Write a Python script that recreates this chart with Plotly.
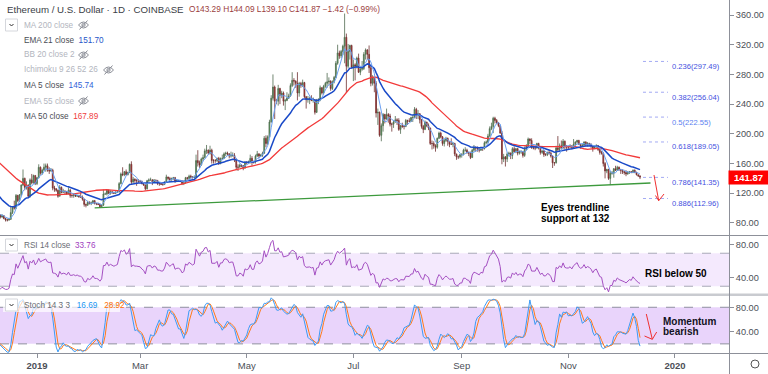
import numpy as np
import pandas as pd
import plotly.graph_objects as go

# ---------------- DATA: daily (close, high, low); open = previous close ----------------
OCT18 = [(195,198,193),(210,226,194),(210,214,207),(206,211,204),(203,208,200),(202,205,200),(204,206,201),
         (205,208,203),(204,207,202),(203,205,201),(204,208,202),(202,205,201),(202,204,200),(203,205,201),
         (203,205,201),(196,204,193),(197,198,194),(197,200,195)]
NOV18 = [(199,201,196),(201,203,198),(199,202,197),(212,214,198),(210,214,207),(219,220,208),(217,222,215),
         (211,218,209),(208,212,206),(212,213,207),(212,214,208),(210,213,208),(206,211,204),(181,207,176),
         (180,183,167),(175,182,173),(174,176,171),(176,180,174),(149,177,146),(130,151,120),(136,141,126),
         (126,138,125),(123,127,117),(113,127,112),(116,119,101),(108,119,104),(110,113,101),(122,128,109),
         (118,123,116),(113,119,109)]
DEC18 = [(117,119,112),(114,120,113),(108,115,106),(110,112,105),(103,110,102),(91,104,90),(91,95,83),
         (92,95,88),(94,97,91),(91,95,89),(88,91,86),(90,92,87),(86,90,85),(84,87,82),(84,86,82),(85,87,83),
         (94,102,84),(101,102,92),(100,110,98),(117,119,99),(110,118,108),(118,119,108),(131,132,116),
         (140,152,130),(128,141,124),(131,136,125),(116,132,114),(138,140,114),(134,146,132),(144,145,133),
         (133,144,131)]
JAN19 = [(141,142,131),(155,159,140),(147,156,145),(151,153,145),(155,160,151),(157,160,149),(151,160,149),
         (150,155,146),(151,154,149),(127,153,124),(126,130,122),(124,127,122),(116,125,114),(128,131,116),
         (121,129,120),(123,126,121),(122,124,118),(119,123,118),(124,128,119),(117,126,114),(117,118,114),
         (118,120,114),(116,119,115),(117,118,115),(115,118,114),(115,121,114),(112,117,110),(105,112,102),
         (104,106,101),(108,110,103),(106,109,105)]
FEB19 = [(107,109,104),(110,111,106),(106,111,105),(106,107,104),(105,107,104),(102,106,101),(104,105,101),
         (119,125,103),(119,121,118),(124,125,117),(120,125,119),(122,124,118),(121,123,119),(120,122,119),
         (121,123,119),(122,124,121),(133,135,121),(146,148,132),(145,155,143),(149,150,143),(145,152,144),
         (148,149,144),(159,160,147),(135,163,132),(139,142,134),(137,140,134),(137,139,130),(136,139,134)]
MAR19 = [(136,138,135),(133,137,132),(131,134,130),(126,132,124),(137,138,125),(138,140,135),(138,141,137),
         (135,139,131),(138,139,134),(137,138,135),(133,138,131),(133,134,130),(132,134,131),(132,134,130),
         (135,136,131),(142,145,134),(140,142,138),(138,142,136),(140,141,137),(141,142,138),(136,142,134),
         (137,138,135),(137,138,136),(136,138,135),(133,137,131),(134,135,131),(141,142,133),(140,142,138),
         (143,145,138),(142,145,140),(141,143,140)]
APR19 = [(142,144,140),(164,172,141),(161,178,156),(158,164,154),(166,168,157),(168,172,163),(177,180,167),
         (178,185,173),(174,179,172),(178,184,172),(164,180,160),(164,166,160),(164,166,161),(167,168,162),
         (160,169,158),(167,168,159),(167,172,165),(173,175,166),(174,176,170),(173,176,171),(170,174,167),
         (171,176,168),(171,175,169),(165,174,162),(155,167,151),(155,159,150),(158,160,155),(157,159,155),
         (154,158,151),(162,163,153)]
MAY19 = [(161,163,159),(162,164,160),(167,172,160),(162,170,157),(162,164,160),(170,172,160),(173,177,169),
         (170,174,167),(171,173,169),(174,176,169),(194,197,173),(187,198,182),(196,198,185),(216,219,195),
         (248,252,215),(263,280,245),(244,265,220),(244,247,240),(261,266,238),(252,262,240),(255,258,248),
         (244,257,238),(245,247,232),(248,256,244),(251,254,247),(265,268,250),(272,283,263),(271,275,265),
         (268,272,262),(255,283,245),(268,270,250)]
JUN19 = [(265,270,262),(269,273,263),(250,270,248),(246,251,234),(247,251,242),(247,250,240),(245,252,244),
         (246,249,242),(229,246,226),(245,247,228),(246,248,240),(262,265,244),(255,263,253),(264,266,253),
         (268,270,262),(270,282,262),(271,276,266),(261,272,258),(270,272,259),(276,278,268),(295,298,275),
         (309,320,293),(305,312,301),(311,313,302),(318,320,306),(330,362,295),(291,335,255),(311,321,288),
         (319,320,300),(290,320,288)]
JUL19 = [(293,300,271),(291,295,272),(302,304,288),(283,308,282),(287,290,279),(288,298,285),(307,310,286),
         (313,315,300),(307,314,300),(289,319,282),(268,292,264),(275,279,265),(268,277,256),(228,271,222),
         (229,234,212),(198,230,196),(211,214,190),(226,228,203),(220,227,214),(226,234,219),(224,228,215),
         (213,227,210),(213,215,203),(216,218,208),(219,224,215),(218,221,212),(206,221,204),(211,212,200),
         (210,215,208),(210,212,206),(218,220,209)]
AUG19 = [(217,219,212),(217,221,216),(222,223,216),(222,225,216),(233,236,222),(225,235,220),(227,232,220),
         (219,228,214),(210,220,207),(206,212,201),(216,218,205),(211,216,209),(208,214,205),(187,208,185),
         (187,191,179),(184,190,180),(182,186,176),(194,195,180),(201,203,193),(196,203,194),(187,197,184),
         (191,193,183),(194,196,189),(190,195,184),(186,190,182),(186,194,185),(187,189,182),(173,188,170),
         (169,173,165),(169,171,166),(172,173,167)]
SEP19 = [(172,174,168),(178,180,171),(178,182,176),(175,180,173),(174,176,170),(168,176,166),(178,180,168),
         (182,185,176),(181,183,176),(180,183,176),(178,181,175),(181,183,177),(180,182,177),(188,190,179),
         (189,191,186),(197,200,187),(207,210,196),(210,215,205),(221,223,201),(218,223,214),(215,220,213),
         (211,216,209),(201,212,200),(166,204,159),(169,173,162),(166,170,156),(173,175,162),(174,176,170),
         (171,175,166),(180,182,166)]
OCT19 = [(176,183,175),(180,181,174),(174,181,171),(176,177,172),(176,178,173),(171,177,168),(180,183,169),
         (184,186,178),(193,195,182),(191,194,186),(181,194,180),(181,184,179),(181,184,178),(187,188,180),
         (181,188,179),(175,182,172),(177,178,173),(172,178,169),(172,174,170),(175,176,170),(174,178,172),
         (170,176,168),(161,171,154),(161,162,157),(181,184,160),(179,197,176),(184,187,176),(181,191,180),
         (190,193,180),(183,191,179),(182,185,176)]
NOV19 = [(182,184,179),(184,186,182),(181,184,179),(186,193,180),(189,190,184),(191,192,187),(186,192,185),
         (184,186,180),(185,186,183),(189,190,183),(185,190,183),(187,189,183),(186,188,185),(184,187,181),
         (180,184,176),(183,184,180),(184,186,181),(179,185,177),(175,180,172),(174,177,172),(160,175,156),
         (150,162,140),(152,153,147),(140,153,138),(147,150,131),(147,150,145),(153,154,141),(151,157,150),
         (155,157,150),(152,156,150)]
DEC19 = [(151,152,146),(149,152,146),(148,150,145),(146,151,143),(148,150,145),(149,150,146),(148,150,147),
         (151,152,147),(148,152,147),(145,149,144),(143.29,145,142),(141.87,144.09,139.10)]

MONTH_STARTS = ["2018-10-14", "2018-11-01", "2018-12-01", "2019-01-01", "2019-02-01", "2019-03-01",
                "2019-04-01", "2019-05-01", "2019-06-01", "2019-07-01", "2019-08-01", "2019-09-01",
                "2019-10-01", "2019-11-01", "2019-12-01"]
MONTHS = [OCT18, NOV18, DEC18, JAN19, FEB19, MAR19, APR19, MAY19, JUN19, JUL19, AUG19, SEP19, OCT19, NOV19, DEC19]

# legend values as shown
TITLE = "Ethereum / U.S. Dollar · 1D · COINBASE"
OHLC_TEXT = "O143.29 H144.09 L139.10 C141.87 −1.42 (−0.99%)"
EMA21_VAL, MA5_VAL, MA50_VAL = "151.70", "145.74", "167.89"
RSI_VAL, K_VAL, D_VAL = "33.76", "16.69", "28.92"
LAST_PRICE = 141.87

FIB_RATIOS = ["0.236", "0.382", "0.5", "0.618", "0.786", "0.886"]
FIB_PRICES = [297.49, 256.04, 222.55, 189.05, 141.35, 112.96]

TREND_DATES = ["2019-02-03", "2019-12-18"]
TREND_PRICES = [100.2, 133.8]

TICK_DATES = ["2019-01-01", "2019-03-01", "2019-05-01", "2019-07-01", "2019-09-01", "2019-11-01", "2020-01-01"]
TICK_TEXT = ["<b>2019</b>", "Mar", "May", "Jul", "Sep", "Nov", "<b>2020</b>"]
PRICE_TICKS = [80, 120, 160, 200, 240, 280, 320, 360]
RSI_TICKS = [40, 80]
STOCH_TICKS = [40, 80]

# ---------------- build frame ----------------
dates, closes, highs, lows = [], [], [], []
for start, month in zip(MONTH_STARTS, MONTHS):
    dates += list(pd.date_range(start, periods=len(month), freq="D"))
    for c, h, l in month:
        closes.append(c); highs.append(h); lows.append(l)
df = pd.DataFrame({"close": closes, "high": highs, "low": lows}, index=pd.DatetimeIndex(dates))
df["open"] = df["close"].shift(1)
df = df.iloc[1:]  # first row only seeds the open

full_close = pd.Series(closes, index=pd.DatetimeIndex(dates))
ma5 = full_close.rolling(5).mean().iloc[1:]
ma50 = full_close.rolling(50).mean().iloc[1:]
ema21 = full_close.ewm(span=21, adjust=False).mean().iloc[1:]
delta = full_close.diff()
gain = delta.clip(lower=0).ewm(alpha=1/14, adjust=False).mean()
loss = (-delta.clip(upper=0)).ewm(alpha=1/14, adjust=False).mean()
rsi = (100 - 100 / (1 + gain / loss)).iloc[1:]
hh = df["high"].rolling(14).max()
ll = df["low"].rolling(14).min()
kraw = 100 * (df["close"] - ll) / (hh - ll)
stoch_k = kraw.rolling(3).mean()
stoch_d = stoch_k.rolling(3).mean()

# ---------------- geometry helpers (pixel -> paper) ----------------
W, H = 768, 374
PW, PH = 729, 353
def px(x): return x / PW
def py(y): return 1 - y / PH

FONT = "Liberation Sans, Arial, sans-serif"

fig = go.Figure()
fig.add_trace(go.Candlestick(
    x=df.index, open=df["open"], high=df["high"], low=df["low"], close=df["close"],
    increasing=dict(line=dict(color="#4f6a4f", width=0.8), fillcolor="#4caf50"),
    decreasing=dict(line=dict(color="#6e3030", width=0.8), fillcolor="#e02424"),
    whiskerwidth=0, yaxis="y", showlegend=False, hoverinfo="skip"))
fig.add_trace(go.Scatter(x=ma50.index, y=ma50, mode="lines", line=dict(color="#f23a3a", width=1.3), yaxis="y", hoverinfo="skip"))
fig.add_trace(go.Scatter(x=ema21.index, y=ema21, mode="lines", line=dict(color="#1a4ac8", width=1.5), yaxis="y", hoverinfo="skip"))
fig.add_trace(go.Scatter(x=ma5.index, y=ma5, mode="lines", line=dict(color="#6aa0f2", width=1), yaxis="y", hoverinfo="skip"))
fig.add_trace(go.Scatter(x=TREND_DATES, y=TREND_PRICES, mode="lines", line=dict(color="#3d9a3d", width=1.3), yaxis="y", hoverinfo="skip"))
fig.add_trace(go.Scatter(x=rsi.index, y=rsi, mode="lines", line=dict(color="#a44fc2", width=1), yaxis="y2", hoverinfo="skip"))
fig.add_trace(go.Scatter(x=stoch_d.index, y=stoch_d, mode="lines", line=dict(color="#ff7a1a", width=1), yaxis="y3", hoverinfo="skip"))
fig.add_trace(go.Scatter(x=stoch_k.index, y=stoch_k, mode="lines", line=dict(color="#3d9bf5", width=1), yaxis="y3", hoverinfo="skip"))

shapes = []
annots = []

# indicator bands
shapes.append(dict(type="rect", xref="paper", yref="y2", x0=0, x1=1, y0=30, y1=70,
                   fillcolor="#f4e9fd", line=dict(width=0), layer="below"))
for v in (30, 70):
    shapes.append(dict(type="line", xref="paper", yref="y2", x0=0, x1=1, y0=v, y1=v,
                       line=dict(color="#a9a9b8", width=1, dash="dash"), layer="below"))
shapes.append(dict(type="rect", xref="paper", yref="y3", x0=0, x1=1, y0=20, y1=80,
                   fillcolor="#e9d4fb", line=dict(width=0), layer="below"))
for v in (20, 80):
    shapes.append(dict(type="line", xref="paper", yref="y3", x0=0, x1=1, y0=v, y1=v,
                       line=dict(color="#8f8f9f", width=1, dash="dash"), layer="below"))

# fib levels
for r, p in zip(FIB_RATIOS, FIB_PRICES):
    shapes.append(dict(type="line", xref="x", yref="y", x0="2019-12-13 17:00", x1="2019-12-28", y0=p, y1=p,
                       line=dict(color="#a3aaf3", width=1, dash="dot")))
    annots.append(dict(xref="x", yref="y", x="2019-12-29", y=p, yshift=-5, xanchor="left", yanchor="middle",
                       text=f"{r}({p:.2f})", showarrow=False,
                       font=dict(family=FONT, size=7.6, color="#5a7ff0" if r == "0.5" else "#3f4fe0")))

# separators and borders
LINE = "#8d9099"
shapes.append(dict(type="line", xref="paper", yref="paper", x0=0, x1=px(W), y0=py(235.5), y1=py(235.5), line=dict(color=LINE, width=1)))
shapes.append(dict(type="line", xref="paper", yref="paper", x0=0, x1=px(W), y0=py(294.8), y1=py(294.8), line=dict(color="#c9cbd0", width=2.5)))
shapes.append(dict(type="line", xref="paper", yref="paper", x0=0, x1=px(W), y0=py(353.5), y1=py(353.5), line=dict(color=LINE, width=1)))
shapes.append(dict(type="line", xref="paper", yref="paper", x0=px(729.5), x1=px(729.5), y0=py(0), y1=py(H), line=dict(color=LINE, width=1)))

# red arrows (price pane and stoch pane)
def arrow(p0, tip, w1, w2):
    for a in (p0, w1, w2):
        shapes.append(dict(type="line", xref="paper", yref="paper", x0=px(a[0]), y0=py(a[1]),
                           x1=px(tip[0]), y1=py(tip[1]), line=dict(color="#f03030", width=1)))
arrow((654, 175), (658.7, 200.7), (655.5, 195.5), (664, 194))
arrow((646.3, 314), (652.3, 339.3), (644.5, 336), (656.7, 332))

# legend widgets: chevron boxes and eye-crossed icons
def chevron(x0, y0):
    shapes.append(dict(type="rect", xref="paper", yref="paper", x0=px(x0), x1=px(x0 + 12), y0=py(y0), y1=py(y0 + 12),
                       line=dict(color="#d5d7dc", width=1), fillcolor="white"))
    shapes.append(dict(type="path", xref="paper", yref="paper",
                       path=f"M {px(x0+4)},{py(y0+5)} L {px(x0+6)},{py(y0+7)} L {px(x0+8)},{py(y0+5)}",
                       line=dict(color="#333", width=1)))
def eye(xc, yc):
    x0, x1 = xc - 5, xc + 5
    shapes.append(dict(type="path", xref="paper", yref="paper",
                       path=f"M {px(x0)},{py(yc)} Q {px(xc)},{py(yc-6)} {px(x1)},{py(yc)} Q {px(xc)},{py(yc+6)} {px(x0)},{py(yc)} Z",
                       line=dict(color="#8a8d96", width=1)))
    shapes.append(dict(type="circle", xref="paper", yref="paper", x0=px(xc-1.6), x1=px(xc+1.6), y0=py(yc-1.6), y1=py(yc+1.6),
                       line=dict(color="#8a8d96", width=1)))
    shapes.append(dict(type="line", xref="paper", yref="paper", x0=px(xc-4), x1=px(xc+4), y0=py(yc+4.5), y1=py(yc-4.5),
                       line=dict(color="#8a8d96", width=1)))

chevron(5.5, 19)
chevron(5.5, 239)
shapes.append(dict(type="rect", xref="paper", yref="paper", x0=px(3), x1=px(120), y0=py(298), y1=py(312),
                   fillcolor="rgba(255,255,255,0.7)", line=dict(width=0), layer="above"))
chevron(5.5, 299)

for xc, yc in [(83.5, 25), (83.5, 55), (108.5, 70), (83.5, 101)]:
    eye(xc, yc)

# gear icon
shapes.append(dict(type="circle", xref="paper", yref="paper", x0=px(751), x1=px(759), y0=py(360), y1=py(368),
                   line=dict(color="#555", width=1)))

def text(x, y, s, size, color="#333", bold=False, anchor="left"):
    if bold:
        s = f"<b>{s}</b>"
    annots.append(dict(xref="paper", yref="paper", x=px(x), y=py(y), text=s, showarrow=False,
                       xanchor=anchor, yanchor="middle", font=dict(family=FONT, size=size, color=color)))

DIM = "#b2b5be"
DARK = "#4a4d55"
text(5, 9, TITLE, 9.7, "#3a3d45")
text(187, 9, OHLC_TEXT, 8.3, "#9a3d3d")
text(22, 25, "MA 200 close", 8.2, DIM)
text(22, 40, f"EMA 21 close  <span style='color:#2655c8'>{EMA21_VAL}</span>", 8.2, DARK)
text(22, 55, "BB 20 close 2", 8.2, DIM)
text(22, 70, "Ichimoku 9 26 52 26", 8.2, DIM)
text(22, 86, f"MA 5 close  <span style='color:#2f62d8'>{MA5_VAL}</span>", 8.2, DARK)
text(22, 101, "EMA 55 close", 8.2, DIM)
text(22, 116, f"MA 50 close  <span style='color:#f03c3c'>{MA50_VAL}</span>", 8.2, DARK)
text(22, 245, f"RSI 14 close  <span style='color:#a040c0'>{RSI_VAL}</span>", 8.2, "#6a6d75")
text(22, 305, f"Stoch 14 3 3   <span style='color:#2196f3'>{K_VAL}</span>   <span style='color:#ff6d00'>{D_VAL}</span>", 8.2, "#6a6d75")

text(539, 207, "Eyes trendline", 10, "#000", True)
text(539, 218, "support at 132", 10, "#000", True)
text(643, 273, "RSI below 50", 10, "#000", True)
text(661, 321, "Momentum", 10, "#111122", True)
text(661, 331, "bearish", 10, "#111122", True)

annots.append(dict(xref="paper", yref="y", x=px(748.5), y=LAST_PRICE, text=f"<b>{LAST_PRICE:.2f}</b>",
                   showarrow=False, xanchor="center", yanchor="middle", bgcolor="#ff0000",
                   width=37, height=11, font=dict(family=FONT, size=9.5, color="white")))

AX = dict(side="right", anchor="x", showgrid=False, zeroline=False, showline=False,
          ticks="outside", ticklen=4, tickcolor="#8d9099", tickformat=".2f",
          tickfont=dict(family=FONT, size=9.2, color="#4c4f57"))

fig.update_layout(
    width=W, height=H, margin=dict(l=0, r=W - PW, t=0, b=H - PH),
    paper_bgcolor="white", plot_bgcolor="white", showlegend=False,
    xaxis=dict(type="date", range=["2018-12-10 20:00", "2020-01-31 22:00"], anchor="y3",
               rangeslider=dict(visible=False), showgrid=False, zeroline=False, showline=False,
               tickvals=TICK_DATES, ticktext=TICK_TEXT, ticks="outside", ticklen=4, tickcolor="#8d9099",
               tickfont=dict(family=FONT, size=9.5, color="#4c4f57")),
    yaxis=dict(domain=[1 - 235 / PH, 1], range=[63.8, 380.2], tickvals=PRICE_TICKS, **AX),
    yaxis2=dict(domain=[1 - 294 / PH, 1 - 236 / PH], range=[20.6, 90.9], tickvals=RSI_TICKS, **AX),
    yaxis3=dict(domain=[0, 1 - 296 / PH], range=[5, 98.5], tickvals=STOCH_TICKS, **AX),
    shapes=shapes, annotations=annots,
)

fig.write_html("out.html", config={"displayModeBar": False},
               post_script="document.body.style.margin='0';document.body.style.overflow='hidden';")
